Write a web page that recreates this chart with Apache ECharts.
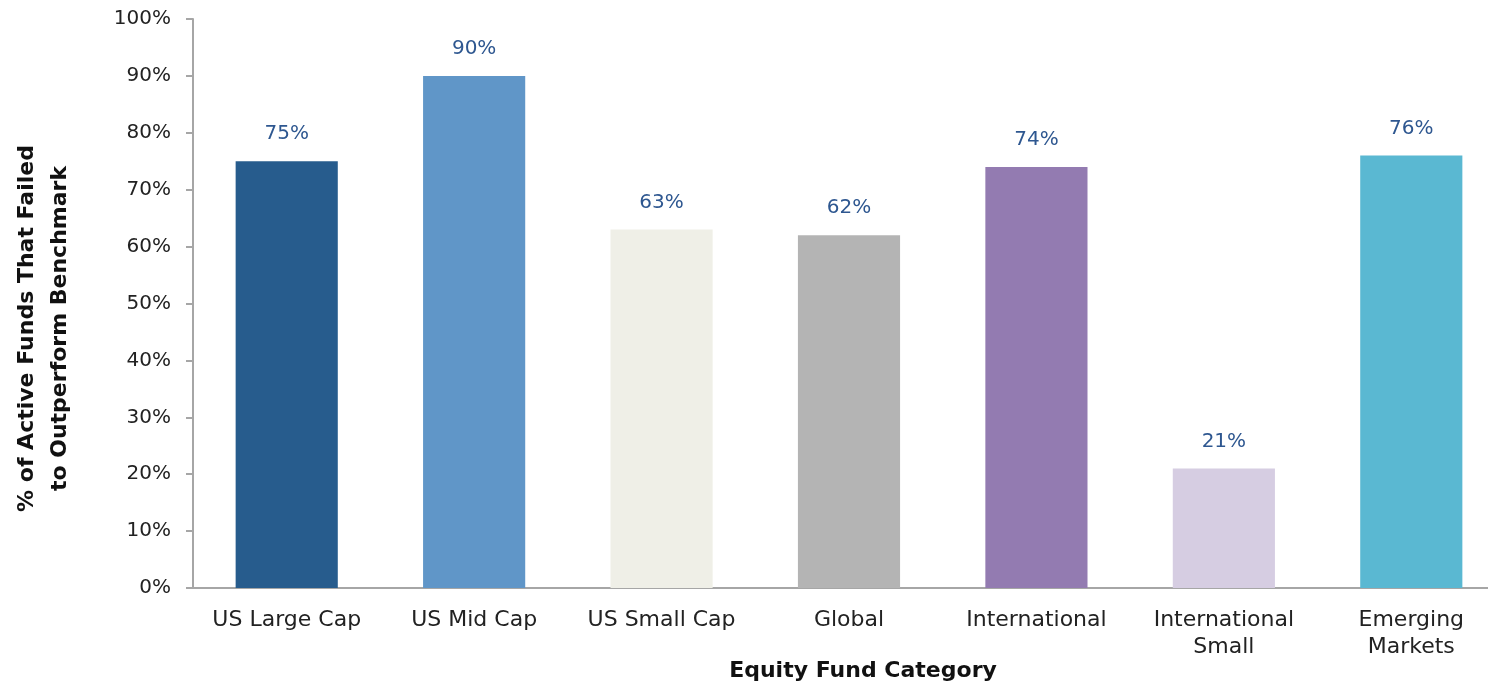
<!DOCTYPE html>
<html>
<head>
<meta charset="utf-8">
<script src="https://cdn.jsdelivr.net/npm/echarts@6/dist/echarts.min.js"></script>
<style>
  html, body { margin: 0; padding: 0; background: #fff; }
  #chart { width: 1488px; height: 686px; }
</style>
</head>
<body>
<div id="chart"></div>
<script>
// categories and values
const categories = ['US Large Cap', 'US Mid Cap', 'US Small Cap', 'Global', 'International', 'International\nSmall', 'Emerging\nMarkets'];
const failedPct = [75, 90, 63, 62, 74, 21, 76];
const barColors = ['#275c8d', '#6096c8', '#efefe7', '#b4b4b4', '#937bb1', '#d6cde2', '#5ab8d2'];

const font = 'DejaVu Sans';

const chart = echarts.init(document.getElementById('chart'));
chart.setOption({
  animation: false,
  textStyle: { fontFamily: font },
  grid: { left: 193, top: 19, bottom: 98, right: -17, containLabel: false, outerBoundsMode: 'none' },
  xAxis: {
    type: 'category',
    data: categories,
    name: 'Equity Fund Category',
    nameLocation: 'middle',
    nameGap: 72,
    nameMoveOverlap: false,
    nameTextStyle: { fontSize: 22, fontWeight: 'bold', color: '#111', fontFamily: font, padding: [0, 0, 0, 28] },
    axisLine: { lineStyle: { color: '#a6a6a6', width: 2 } },
    axisTick: { length: 7, lineStyle: { color: '#a6a6a6', width: 2 } },
    axisLabel: { fontSize: 22, color: '#222', margin: 19, lineHeight: 27, interval: 0 }
  },
  yAxis: {
    type: 'value',
    min: 0,
    max: 100,
    interval: 10,
    name: '% of Active Funds That Failed\nto Outperform Benchmark',
    nameLocation: 'middle',
    nameGap: 116,
    nameMoveOverlap: false,
    nameRotate: 90,
    nameTextStyle: { fontSize: 22, fontWeight: 'bold', color: '#111', fontFamily: font, lineHeight: 33, padding: [0, 50, 0, 0] },
    axisLine: { show: true, lineStyle: { color: '#a6a6a6', width: 2 } },
    axisTick: { show: true, length: 7, lineStyle: { color: '#a6a6a6', width: 2 } },
    splitLine: { show: false },
    axisLabel: { fontSize: 20, color: '#222', margin: 22, formatter: v => v + '%' }
  },
  series: [{
    type: 'bar',
    barWidth: '54.5%',
    data: failedPct.map((v, i) => ({ value: v, itemStyle: { color: barColors[i] } })),
    label: {
      show: true,
      position: 'top',
      distance: 17,
      fontSize: 20,
      color: '#2e5790',
      formatter: p => p.value + '%'
    }
  }]
});
</script>
</body>
</html>
